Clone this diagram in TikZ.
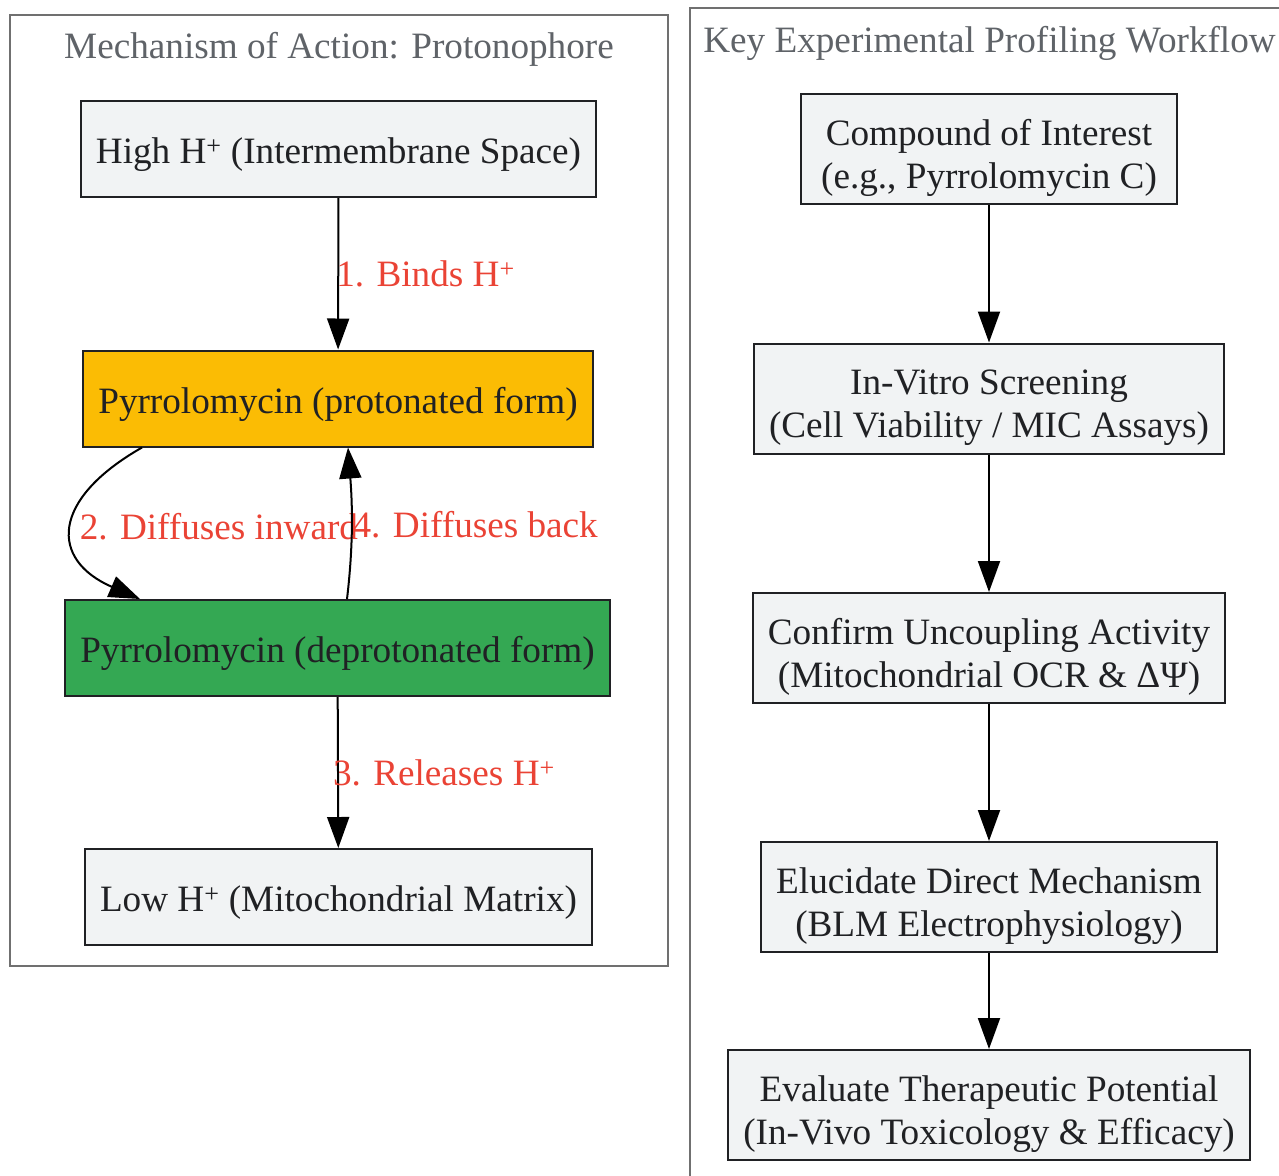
\documentclass[tikz,border=0pt]{standalone}
\usepackage{fontspec}
\setmainfont{Liberation Serif}
\usetikzlibrary{arrows.meta}
\definecolor{ink}{HTML}{202124}
\definecolor{boxfill}{HTML}{F1F3F4}
\definecolor{protoyellow}{HTML}{FBBC04}
\definecolor{deprotogreen}{HTML}{34A853}
\definecolor{labelred}{HTML}{EA4335}
\definecolor{titlegray}{HTML}{5F6368}
\definecolor{clustergray}{HTML}{707070}
\newcommand{\topstrut}{\rule{0pt}{1.0em}}
\newcommand{\tallstrut}{\rule{0pt}{1.16em}}

\begin{document}
\begin{tikzpicture}[x=1pt,y=-1pt,>={Triangle[length=31pt,width=22pt]},line width=2pt,
  every node/.style={font=\fontsize{37.2}{43}\selectfont,text=ink},
  stepbox/.style={draw=ink,fill=boxfill,minimum height=96pt,inner xsep=15pt,inner ysep=3pt,
    align=center},
  wide/.style={minimum height=110pt},
  steplabel/.style={text=labelred,inner sep=0pt,anchor=west},
  clusterbox/.style={draw=clustergray},
  clustertitle/.style={text=titlegray}]
                \clip (0,0) rectangle (1279,1175);
                % clusters
                \draw[clusterbox] (10,15) rectangle (668,966);
                \draw[clusterbox] (690,8) rectangle (1295,1195);
                \node[clustertitle](mechTitle)at(339, 49){Mechanism of Action: Protonophore};
                \node[clustertitle](flowTitle)at(989.5, 43){Key Experimental Profiling Workflow};
                % mechanism
                \node[stepbox](highH)at(338.5, 149){\topstrut High H\textsuperscript{+} (Intermembrane Space)};
                \node[stepbox,fill=protoyellow](proto)at(338, 398.5){\topstrut Pyrrolomycin (protonated form)};
                \node[stepbox,fill=deprotogreen](deproto)at(337.5, 648){\topstrut Pyrrolomycin (deprotonated form)};
                \node[stepbox](lowH)at(338.5, 897){\topstrut Low H\textsuperscript{+} (Mitochondrial Matrix)};
                \path[->](highH) edge node[steplabel,xshift=-3pt]{1. Binds H\textsuperscript{+}} (proto)
                (deproto) edge node[steplabel,xshift=-6pt]{3. Releases H\textsuperscript{+}} (lowH);
                \draw[->]([xshift=-196pt]proto.south) .. controls (50,500) and (50,560) .. node[steplabel,xshift=6pt,yshift=2pt]{2. Diffuses inward} ([xshift=-197.5pt]deproto.north);
                \draw[->]([xshift=9.5pt]deproto.north) .. controls (354,540) and (352,500) .. node[steplabel,yshift=-4pt]{4. Diffuses back} ([xshift=10pt]proto.south);
                % workflow
                \node[stepbox,wide,minimum width=376pt](compound)at(989, 149){\tallstrut Compound of Interest\\(e.g., Pyrrolomycin C)};
                \node[stepbox,wide](vitro)at(989, 398.5){\tallstrut In-Vitro Screening\\(Cell Viability / MIC Assays)};
                \node[stepbox,wide](confirm)at(989, 648){\tallstrut Confirm Uncoupling Activity\\(Mitochondrial OCR \& ΔΨ)};
                \node[stepbox,wide](elucidate)at(989, 897){\tallstrut Elucidate Direct Mechanism\\(BLM Electrophysiology)};
                \node[stepbox,wide](evaluate)at(989, 1105){\tallstrut Evaluate Therapeutic Potential\\(In-Vivo Toxicology \& Efficacy)};
                \path[->](compound) edge (vitro)
                (vitro) edge (confirm)
                (confirm) edge (elucidate)
                (elucidate) edge (evaluate);
            \end{tikzpicture}
\end{document}
